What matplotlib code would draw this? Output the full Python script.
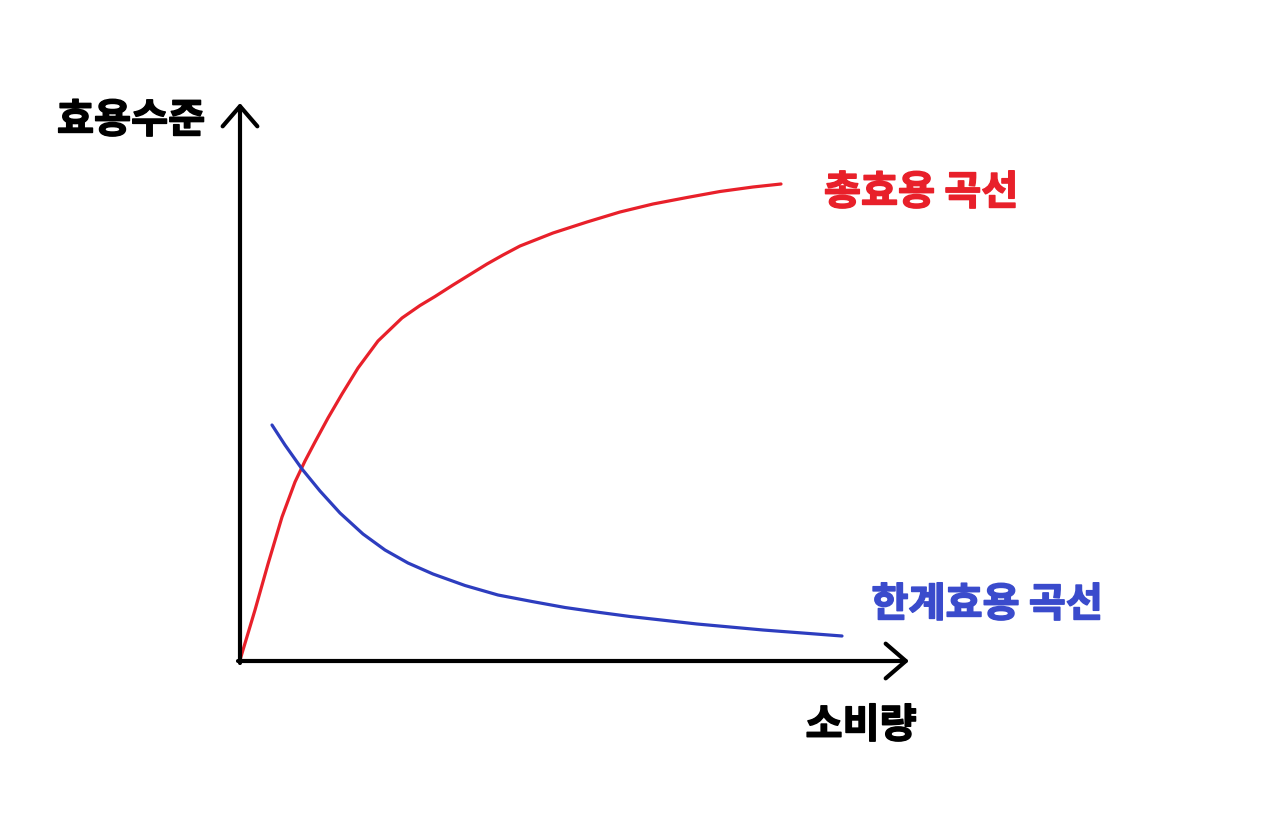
import matplotlib
matplotlib.use("Agg")
from matplotlib import pyplot as plt
import matplotlib.patheffects as pe

plt.rcParams['font.family'] = ['Noto Sans CJK KR', 'DejaVu Sans']

# total utility curve (consumption, utility)
total_x = [0, 1.5, 2.8, 4.2, 5.5, 6.5, 7.5, 8.8, 10.2, 11.8, 13.8, 16.2, 18.0,
           19.5, 21.3, 24.7, 26.3, 28.0, 31.3, 34.7, 38.0, 41.3, 44.7, 48.0, 51.3, 54.1]
total_y = [0, 5.0, 9.6, 14.3, 17.8, 19.9, 21.8, 24.2, 26.6, 29.2, 31.9, 34.2, 35.45,
           36.35, 37.5, 39.6, 40.5, 41.4, 42.7, 43.8, 44.8, 45.6, 46.25, 46.85, 47.3, 47.6]

# marginal utility curve
marg_x = [3.2, 4.5, 6.2, 8.0, 10.0, 12.3, 14.5, 16.8, 19.3, 22.5, 25.8, 29.2,
          32.5, 36.0, 39.0, 45.7, 52.3, 60.2]
marg_y = [23.5, 21.5, 19.1, 16.9, 14.7, 12.6, 11.0, 9.7, 8.6, 7.45, 6.5, 5.85,
          5.25, 4.75, 4.35, 3.6, 3.0, 2.4]

y_label = '효용수준'
x_label = '소비량'
total_label = '총효용 곡선'
marg_label = '한계효용 곡선'

red = '#e8202a'
blue = '#2d3dbf'
blue_txt = '#3a4bcc'

fig = plt.figure(figsize=(12.8, 8.14), dpi=100)
ax = fig.add_axes([0, 0, 1, 1])
ax.set_xlim(-24, 104)
ax.set_ylim(-15.4, 66)
ax.axis('off')

arrow = dict(arrowstyle='->,head_length=1.45,head_width=1.25', lw=3.0,
             color='black', shrinkA=0, shrinkB=0, capstyle='round', joinstyle='round')
ax.annotate('', xy=(0, 55.7), xytext=(0, -0.3), arrowprops=arrow)
ax.annotate('', xy=(66.9, -0.1), xytext=(-0.2, -0.1), arrowprops=arrow)

ax.plot(total_x, total_y, color=red, lw=2.3, solid_capstyle='round', solid_joinstyle='round')
ax.plot(marg_x, marg_y, color=blue, lw=2.3, solid_capstyle='round', solid_joinstyle='round')


def label(x, y, s, color):
    t = ax.text(x, y, s, fontsize=29, fontweight='black', color=color,
                ha='center', va='center')
    t.set_path_effects([pe.withStroke(linewidth=1.1, foreground=color)])


label(-10.9, 53.9, y_label, 'black')
label(62.1, -6.6, x_label, 'black')
label(68.1, 46.7, total_label, red)
label(74.7, 5.5, marg_label, blue_txt)

fig.savefig('out.png', dpi=100, facecolor='white')
